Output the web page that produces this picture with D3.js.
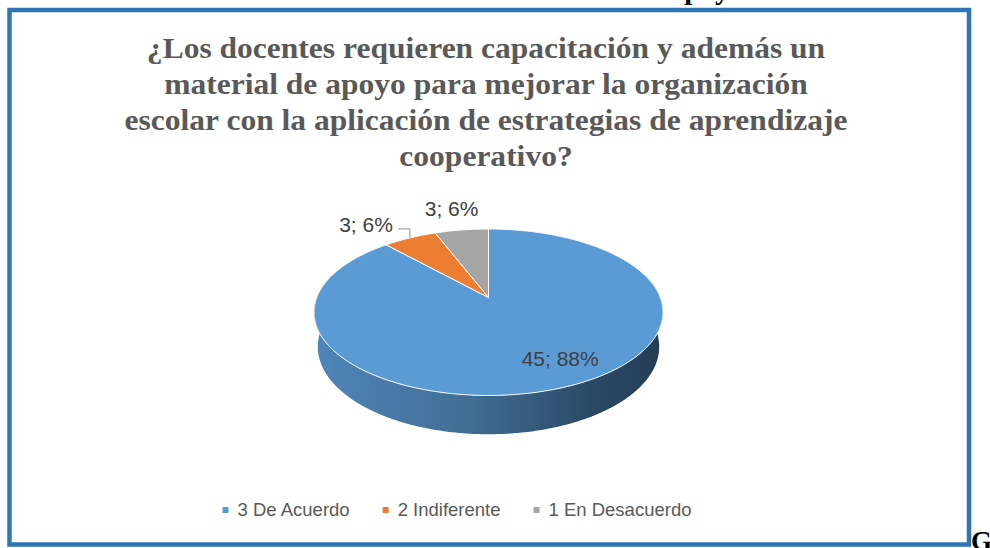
<!DOCTYPE html>
<html>
<head>
<meta charset="utf-8">
<script src="https://cdn.jsdelivr.net/npm/d3@7"></script>
<style>
  body { margin: 0; background: #fff; }
  svg { display: block; }
</style>
</head>
<body>
<div id="chart"></div>
<script>
// chart data
var categories = ["3 De Acuerdo", "2 Indiferente", "1 En Desacuerdo"];
var values = [45, 3, 3];
var colors = ["#5B9BD5", "#ED7D31", "#A5A5A5"];
var titleLines = [
  "¿Los docentes requieren capacitación y además un",
  "material de apoyo para mejorar la organización",
  "escolar con la aplicación de estrategias de aprendizaje",
  "cooperativo?"
];

var width = 990, height = 548;

var svg = d3.select("#chart").append("svg")
    .attr("width", width)
    .attr("height", height);

// page text around the chart (cut off by the crop)
svg.append("text")
    .attr("x", 744).attr("y", -1)
    .attr("text-anchor", "end")
    .attr("font-family", "'Liberation Serif', 'Times New Roman', serif")
    .attr("font-weight", "bold")
    .attr("font-size", 29)
    .attr("fill", "#000")
    .text("Material de apoyo");

svg.append("text")
    .attr("x", 971).attr("y", 550)
    .attr("font-family", "'Liberation Serif', 'Times New Roman', serif")
    .attr("font-weight", "bold")
    .attr("font-size", 27)
    .attr("fill", "#000")
    .text("G");

// chart frame
svg.append("rect")
    .attr("x", 9.5).attr("y", 10)
    .attr("width", 959.5).attr("height", 534.5)
    .attr("fill", "#fff")
    .attr("stroke", "#2E75B6")
    .attr("stroke-width", 4.5);

// title
var title = svg.append("g")
    .attr("font-family", "'Liberation Serif', 'Times New Roman', serif")
    .attr("font-weight", "bold")
    .attr("font-size", 30)
    .attr("fill", "#595959")
    .attr("text-anchor", "middle");

var titleText = title.selectAll("text")
  .data(titleLines)
  .enter().append("text")
    .attr("x", 0)
    .attr("y", function(d, i) { return 58 + i * 36; })
    .text(function(d) { return d; });

var widest = d3.max(titleText.nodes(), function(n) { return n.getComputedTextLength(); });
title.attr("transform", "translate(486,0) scale(" + (723 / widest) + ",1)");

// 3d pie projection (tilted disc with a bit of perspective)
var tilt = 28 * Math.PI / 180,
    persp = 5,
    depth = 0.23;

function project(theta, y, r) {
  if (r === undefined) r = 1;
  var X = r * Math.sin(theta), Z = r * Math.cos(theta);
  var u = y * Math.cos(tilt) + Z * Math.sin(tilt);
  var d = Z * Math.cos(tilt) - y * Math.sin(tilt);
  var s = persp / (persp + d);
  return [X * s, u * s];
}

var rim = d3.range(0, 361).map(function(a) { return project(a * Math.PI / 180, 0); });
var minX = d3.min(rim, function(p) { return p[0]; }),
    maxX = d3.max(rim, function(p) { return p[0]; }),
    maxU = d3.max(rim, function(p) { return p[1]; });

var x = d3.scaleLinear().domain([minX, maxX]).range([314, 663]);
var k = (663 - 314) / (maxX - minX);
var y = d3.scaleLinear().domain([maxU, maxU - 1]).range([229, 229 + k]);

function pt(theta, h, r) {
  var p = project(theta, h, r);
  return [x(p[0]), y(p[1])];
}

function arcPoints(a0, a1, h) {
  var n = Math.max(2, Math.ceil((a1 - a0) / 0.01));
  return d3.range(n + 1).map(function(i) { return pt(a0 + (a1 - a0) * i / n, h); });
}

var pie = d3.pie().sort(null).value(function(d) { return d; });
var arcs = pie(values);
var total = d3.sum(values);
var pct = d3.format(".0%");

var line = d3.line();
var defs = svg.append("defs");

// outer walls (only the front part can be seen)
var frontA = Math.PI / 2 - 0.3, frontB = 3 * Math.PI / 2 + 0.3;
arcs.forEach(function(a, i) {
  var a0 = Math.max(a.startAngle, frontA), a1 = Math.min(a.endAngle, frontB);
  if (a1 <= a0) return;
  var base = d3.rgb(colors[i]);
  var grad = defs.append("linearGradient")
      .attr("id", "wall" + i)
      .attr("gradientUnits", "userSpaceOnUse")
      .attr("x1", 314).attr("x2", 663).attr("y1", 0).attr("y2", 0);
  grad.append("stop").attr("offset", "0%").attr("stop-color", base.darker(0.4));
  grad.append("stop").attr("offset", "45%").attr("stop-color", base.darker(1.0));
  grad.append("stop").attr("offset", "80%").attr("stop-color", base.darker(2.1));
  grad.append("stop").attr("offset", "100%").attr("stop-color", base.darker(2.6));
  var pts = arcPoints(a0, a1, 0).concat(arcPoints(a0, a1, -depth).reverse());
  svg.append("path")
      .attr("d", line(pts) + "Z")
      .attr("fill", "url(#wall" + i + ")");
});

// top faces
var centre = pt(0, 0, 0);
svg.append("g").selectAll("path")
  .data(arcs)
  .enter().append("path")
    .attr("d", function(a) {
      return line([centre].concat(arcPoints(a.startAngle, a.endAngle, 0))) + "Z";
    })
    .attr("fill", function(a, i) { return colors[i]; })
    .attr("stroke", "#fff")
    .attr("stroke-width", 1)
    .attr("stroke-linejoin", "round");

// data labels
var labels = svg.append("g")
    .attr("font-family", "'Liberation Sans', Arial, sans-serif")
    .attr("font-size", 21)
    .attr("fill", "#404040");

function labelText(i) { return values[i] + "; " + pct(values[i] / total); }
function mid(a) { return (a.startAngle + a.endAngle) / 2; }

// big slice: inside
var p0 = pt(mid(arcs[0]), 0, 0.72);
labels.append("text")
    .attr("x", p0[0] + 21).attr("y", p0[1] + 7)
    .attr("text-anchor", "middle")
    .text(labelText(0));

// orange slice: outside with a leader line
var p1 = pt(mid(arcs[1]), 0, 1);
labels.append("path")
    .attr("d", line([p1, [p1[0], p1[1] - 9], [p1[0] - 12, p1[1] - 9]]))
    .attr("fill", "none")
    .attr("stroke", "#A6A6A6")
    .attr("stroke-width", 1.2);
labels.append("text")
    .attr("x", p1[0] - 17).attr("y", p1[1] - 6)
    .attr("text-anchor", "end")
    .text(labelText(1));

// gray slice: outside, above
var p2 = pt(mid(arcs[2]), 0, 1);
labels.append("text")
    .attr("x", p2[0] - 10).attr("y", p2[1] - 14)
    .attr("text-anchor", "middle")
    .text(labelText(2));

// legend
var legend = svg.append("g")
    .attr("font-family", "'Liberation Sans', Arial, sans-serif")
    .attr("font-size", 18.5)
    .attr("fill", "#595959");

var items = legend.selectAll("g")
  .data(categories)
  .enter().append("g");

items.append("rect")
    .attr("width", 6).attr("height", 6)
    .attr("y", 507)
    .attr("fill", function(d, i) { return colors[i]; });

items.append("text")
    .attr("x", 15).attr("y", 516)
    .text(function(d) { return d; });

var cursor = 0;
var offsets = items.nodes().map(function(n) {
  var w = 15 + d3.select(n).select("text").node().getComputedTextLength();
  var o = cursor;
  cursor += w + 33;
  return o;
});
var legendW = cursor - 33;
var legendX = 457 - legendW / 2;
items.attr("transform", function(d, i) { return "translate(" + (legendX + offsets[i]) + ",0)"; });
</script>
</body>
</html>
